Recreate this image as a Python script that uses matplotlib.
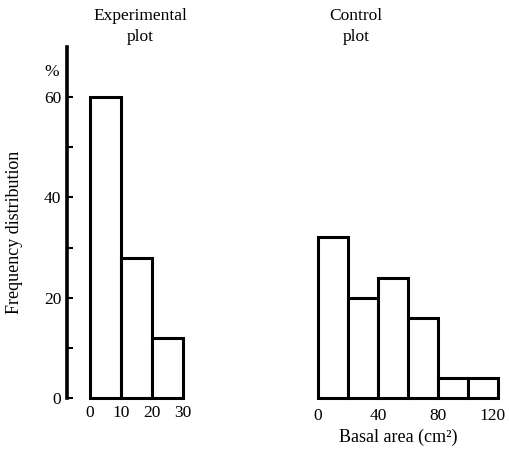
import matplotlib
matplotlib.use("Agg")
import matplotlib.pyplot as plt
import matplotlib.transforms as mtransforms

plt.rcParams['font.family'] = ['Liberation Serif', 'DejaVu Serif']

# Data
exp_edges = [0, 10, 20]
exp_width = 10
exp_values = [60, 28, 12]

ctrl_edges = [0, 20, 40, 60, 80, 100]
ctrl_width = 20
ctrl_values = [32, 20, 24, 16, 4, 4]

y_major = [0, 20, 40, 60]
y_minor = [10, 30, 50]
exp_xticks = [0, 10, 20, 30]
ctrl_xticks = [0, 40, 80, 120]

W, H = 509, 451
fig = plt.figure(figsize=(W / 100, H / 100), dpi=100)

def px_axes(x0, y_top, x1, y_bot):
    return fig.add_axes([x0 / W, 1 - y_bot / H, (x1 - x0) / W, (y_bot - y_top) / H])

ppu_y = (398 - 97) / 60.0
ytop_val = (398 - 47) / ppu_y

# Left panel (experimental)
ppu_x = 3.1
x_left_val = -(90 - 67) / ppu_x
x_right_val = 31.5
axL = px_axes(67, 47, 67 + (x_right_val - x_left_val) * ppu_x, 398)
axL.bar(exp_edges, exp_values, width=exp_width, align='edge',
        facecolor='white', edgecolor='black', linewidth=2.2, clip_on=False)
axL.set_xlim(x_left_val, x_right_val)
axL.set_ylim(0, ytop_val)
for s in ['top', 'right', 'bottom']:
    axL.spines[s].set_visible(False)
axL.spines['left'].set_linewidth(2.6)
axL.set_yticks(y_major)
axL.set_yticks(y_minor, minor=True)
axL.tick_params(axis='y', which='major', direction='in', length=4, width=1.5,
                labelsize=12.5, pad=4)
axL.tick_params(axis='y', which='minor', direction='in', length=4, width=1.5)
axL.set_xticks(exp_xticks)
axL.tick_params(axis='x', length=0, labelsize=12.5, pad=5)
fig.text(52 / W, 1 - 72 / H, '%', fontsize=12.5, ha='center', va='center')

# Right panel (control)
axR = px_axes(318, 47, 498, 398)
axR.bar(ctrl_edges, ctrl_values, width=ctrl_width, align='edge',
        facecolor='white', edgecolor='black', linewidth=2.2, clip_on=False)
axR.set_xlim(0, 120)
axR.set_ylim(0, ytop_val)
for s in axR.spines.values():
    s.set_visible(False)
axR.set_yticks([])
axR.set_xticks(ctrl_xticks)
axR.tick_params(axis='x', length=0, labelsize=12.5, pad=7)
last = axR.get_xticklabels()[-1]
last.set_transform(last.get_transform() +
                   mtransforms.ScaledTranslation(-5 / 100, 0, fig.dpi_scale_trans))

# Texts
fig.text(140 / W, 1 - 16 / H, 'Experimental', ha='center', va='center', fontsize=12.5)
fig.text(140 / W, 1 - 37 / H, 'plot', ha='center', va='center', fontsize=12.5)
fig.text(356 / W, 1 - 16 / H, 'Control', ha='center', va='center', fontsize=12.5)
fig.text(356 / W, 1 - 37 / H, 'plot', ha='center', va='center', fontsize=12.5)
fig.text(15 / W, 1 - 232 / H, 'Frequency distribution', rotation=90,
         ha='center', va='center', fontsize=13)
fig.text(398 / W, 1 - 437 / H, 'Basal area (cm²)', ha='center', va='center',
         fontsize=13)

fig.savefig('out.png', dpi=100)
